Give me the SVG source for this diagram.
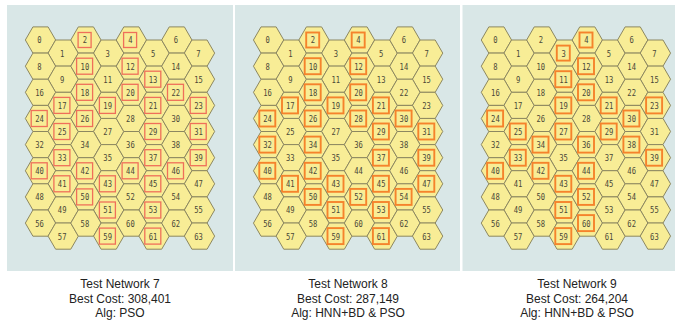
<svg xmlns="http://www.w3.org/2000/svg" xmlns:xlink="http://www.w3.org/1999/xlink" width="675" height="324" viewBox="0 0 675 324">
<style>
.bg{fill:#d9e7e7}
.t{font-family:"DejaVu Sans Mono",monospace;font-size:9.2px;fill:#4a4838;text-anchor:middle;transform:scaleX(0.78);stroke:none}
.k7{fill:none;stroke:#ef6f5a;stroke-width:1.3}
.k8{fill:none;stroke:#f5832c;stroke-width:1.9}
.cap{font-family:"Liberation Sans",Arial,sans-serif;font-size:12px;fill:#222;text-anchor:middle}
</style>
<defs>
<polygon id="h" points="-15.15,0 -7.58,-13.1 7.58,-13.1 15.15,0 7.58,13.1 -7.58,13.1" fill="#f8ed96" stroke="#8c8760" stroke-width="1"/>
<rect id="bs" x="-7.8" y="-7.5" width="13" height="15"/>
<rect id="bd" x="-9.3" y="-8" width="16" height="16"/>
</defs>
<rect class="bg" x="7" y="5" width="226" height="266"/>
<rect class="bg" x="235" y="5" width="225" height="266"/>
<rect class="bg" x="462.5" y="5" width="212.5" height="266"/>

<g id="panel7" transform="translate(40.5 40)">
<g id="n7-0" transform="translate(0 0)"><use href="#h"/><text class="t" x="-1.3" y="3.4">0</text></g>
<g id="n7-1" transform="translate(22.7 13.1)"><use href="#h"/><text class="t" x="-1.3" y="3.4">1</text></g>
<g id="n7-2" transform="translate(45.4 0)"><use href="#h"/><use href="#bs" class="k7"/><text class="t" x="-1.3" y="3.4">2</text></g>
<g id="n7-3" transform="translate(68.2 13.1)"><use href="#h"/><text class="t" x="-1.3" y="3.4">3</text></g>
<g id="n7-4" transform="translate(90.9 0)"><use href="#h"/><use href="#bs" class="k7"/><text class="t" x="-1.3" y="3.4">4</text></g>
<g id="n7-5" transform="translate(113.6 13.1)"><use href="#h"/><text class="t" x="-1.3" y="3.4">5</text></g>
<g id="n7-6" transform="translate(136.3 0)"><use href="#h"/><text class="t" x="-1.3" y="3.4">6</text></g>
<g id="n7-7" transform="translate(159 13.1)"><use href="#h"/><text class="t" x="-1.3" y="3.4">7</text></g>
<g id="n7-8" transform="translate(0 26.2)"><use href="#h"/><text class="t" x="-1.3" y="3.4">8</text></g>
<g id="n7-9" transform="translate(22.7 39.2)"><use href="#h"/><text class="t" x="-1.3" y="3.4">9</text></g>
<g id="n7-10" transform="translate(45.4 26.2)"><use href="#h"/><use href="#bd" class="k7"/><text class="t" x="-1.3" y="3.4">10</text></g>
<g id="n7-11" transform="translate(68.2 39.2)"><use href="#h"/><text class="t" x="-1.3" y="3.4">11</text></g>
<g id="n7-12" transform="translate(90.9 26.2)"><use href="#h"/><use href="#bd" class="k7"/><text class="t" x="-1.3" y="3.4">12</text></g>
<g id="n7-13" transform="translate(113.6 39.2)"><use href="#h"/><use href="#bd" class="k7"/><text class="t" x="-1.3" y="3.4">13</text></g>
<g id="n7-14" transform="translate(136.3 26.2)"><use href="#h"/><text class="t" x="-1.3" y="3.4">14</text></g>
<g id="n7-15" transform="translate(159 39.2)"><use href="#h"/><text class="t" x="-1.3" y="3.4">15</text></g>
<g id="n7-16" transform="translate(0 52.3)"><use href="#h"/><text class="t" x="-1.3" y="3.4">16</text></g>
<g id="n7-17" transform="translate(22.7 65.4)"><use href="#h"/><use href="#bd" class="k7"/><text class="t" x="-1.3" y="3.4">17</text></g>
<g id="n7-18" transform="translate(45.4 52.3)"><use href="#h"/><use href="#bd" class="k7"/><text class="t" x="-1.3" y="3.4">18</text></g>
<g id="n7-19" transform="translate(68.2 65.4)"><use href="#h"/><use href="#bd" class="k7"/><text class="t" x="-1.3" y="3.4">19</text></g>
<g id="n7-20" transform="translate(90.9 52.3)"><use href="#h"/><use href="#bd" class="k7"/><text class="t" x="-1.3" y="3.4">20</text></g>
<g id="n7-21" transform="translate(113.6 65.4)"><use href="#h"/><use href="#bd" class="k7"/><text class="t" x="-1.3" y="3.4">21</text></g>
<g id="n7-22" transform="translate(136.3 52.3)"><use href="#h"/><use href="#bd" class="k7"/><text class="t" x="-1.3" y="3.4">22</text></g>
<g id="n7-23" transform="translate(159 65.4)"><use href="#h"/><use href="#bd" class="k7"/><text class="t" x="-1.3" y="3.4">23</text></g>
<g id="n7-24" transform="translate(0 78.5)"><use href="#h"/><use href="#bd" class="k7"/><text class="t" x="-1.3" y="3.4">24</text></g>
<g id="n7-25" transform="translate(22.7 91.5)"><use href="#h"/><use href="#bd" class="k7"/><text class="t" x="-1.3" y="3.4">25</text></g>
<g id="n7-26" transform="translate(45.4 78.5)"><use href="#h"/><use href="#bd" class="k7"/><text class="t" x="-1.3" y="3.4">26</text></g>
<g id="n7-27" transform="translate(68.2 91.5)"><use href="#h"/><text class="t" x="-1.3" y="3.4">27</text></g>
<g id="n7-28" transform="translate(90.9 78.5)"><use href="#h"/><text class="t" x="-1.3" y="3.4">28</text></g>
<g id="n7-29" transform="translate(113.6 91.5)"><use href="#h"/><use href="#bd" class="k7"/><text class="t" x="-1.3" y="3.4">29</text></g>
<g id="n7-30" transform="translate(136.3 78.5)"><use href="#h"/><text class="t" x="-1.3" y="3.4">30</text></g>
<g id="n7-31" transform="translate(159 91.5)"><use href="#h"/><use href="#bd" class="k7"/><text class="t" x="-1.3" y="3.4">31</text></g>
<g id="n7-32" transform="translate(0 104.6)"><use href="#h"/><text class="t" x="-1.3" y="3.4">32</text></g>
<g id="n7-33" transform="translate(22.7 117.7)"><use href="#h"/><use href="#bd" class="k7"/><text class="t" x="-1.3" y="3.4">33</text></g>
<g id="n7-34" transform="translate(45.4 104.6)"><use href="#h"/><text class="t" x="-1.3" y="3.4">34</text></g>
<g id="n7-35" transform="translate(68.2 117.7)"><use href="#h"/><text class="t" x="-1.3" y="3.4">35</text></g>
<g id="n7-36" transform="translate(90.9 104.6)"><use href="#h"/><text class="t" x="-1.3" y="3.4">36</text></g>
<g id="n7-37" transform="translate(113.6 117.7)"><use href="#h"/><use href="#bd" class="k7"/><text class="t" x="-1.3" y="3.4">37</text></g>
<g id="n7-38" transform="translate(136.3 104.6)"><use href="#h"/><text class="t" x="-1.3" y="3.4">38</text></g>
<g id="n7-39" transform="translate(159 117.7)"><use href="#h"/><use href="#bd" class="k7"/><text class="t" x="-1.3" y="3.4">39</text></g>
<g id="n7-40" transform="translate(0 130.8)"><use href="#h"/><use href="#bd" class="k7"/><text class="t" x="-1.3" y="3.4">40</text></g>
<g id="n7-41" transform="translate(22.7 143.8)"><use href="#h"/><use href="#bd" class="k7"/><text class="t" x="-1.3" y="3.4">41</text></g>
<g id="n7-42" transform="translate(45.4 130.8)"><use href="#h"/><use href="#bd" class="k7"/><text class="t" x="-1.3" y="3.4">42</text></g>
<g id="n7-43" transform="translate(68.2 143.8)"><use href="#h"/><use href="#bd" class="k7"/><text class="t" x="-1.3" y="3.4">43</text></g>
<g id="n7-44" transform="translate(90.9 130.8)"><use href="#h"/><use href="#bd" class="k7"/><text class="t" x="-1.3" y="3.4">44</text></g>
<g id="n7-45" transform="translate(113.6 143.8)"><use href="#h"/><use href="#bd" class="k7"/><text class="t" x="-1.3" y="3.4">45</text></g>
<g id="n7-46" transform="translate(136.3 130.8)"><use href="#h"/><use href="#bd" class="k7"/><text class="t" x="-1.3" y="3.4">46</text></g>
<g id="n7-47" transform="translate(159 143.8)"><use href="#h"/><text class="t" x="-1.3" y="3.4">47</text></g>
<g id="n7-48" transform="translate(0 156.9)"><use href="#h"/><text class="t" x="-1.3" y="3.4">48</text></g>
<g id="n7-49" transform="translate(22.7 170)"><use href="#h"/><text class="t" x="-1.3" y="3.4">49</text></g>
<g id="n7-50" transform="translate(45.4 156.9)"><use href="#h"/><use href="#bd" class="k7"/><text class="t" x="-1.3" y="3.4">50</text></g>
<g id="n7-51" transform="translate(68.2 170)"><use href="#h"/><use href="#bd" class="k7"/><text class="t" x="-1.3" y="3.4">51</text></g>
<g id="n7-52" transform="translate(90.9 156.9)"><use href="#h"/><text class="t" x="-1.3" y="3.4">52</text></g>
<g id="n7-53" transform="translate(113.6 170)"><use href="#h"/><use href="#bd" class="k7"/><text class="t" x="-1.3" y="3.4">53</text></g>
<g id="n7-54" transform="translate(136.3 156.9)"><use href="#h"/><text class="t" x="-1.3" y="3.4">54</text></g>
<g id="n7-55" transform="translate(159 170)"><use href="#h"/><text class="t" x="-1.3" y="3.4">55</text></g>
<g id="n7-56" transform="translate(0 183.1)"><use href="#h"/><text class="t" x="-1.3" y="3.4">56</text></g>
<g id="n7-57" transform="translate(22.7 196.1)"><use href="#h"/><text class="t" x="-1.3" y="3.4">57</text></g>
<g id="n7-58" transform="translate(45.4 183.1)"><use href="#h"/><text class="t" x="-1.3" y="3.4">58</text></g>
<g id="n7-59" transform="translate(68.2 196.1)"><use href="#h"/><use href="#bd" class="k7"/><text class="t" x="-1.3" y="3.4">59</text></g>
<g id="n7-60" transform="translate(90.9 183.1)"><use href="#h"/><text class="t" x="-1.3" y="3.4">60</text></g>
<g id="n7-61" transform="translate(113.6 196.1)"><use href="#h"/><use href="#bd" class="k7"/><text class="t" x="-1.3" y="3.4">61</text></g>
<g id="n7-62" transform="translate(136.3 183.1)"><use href="#h"/><text class="t" x="-1.3" y="3.4">62</text></g>
<g id="n7-63" transform="translate(159 196.1)"><use href="#h"/><text class="t" x="-1.3" y="3.4">63</text></g>
</g>

<g id="panel8" transform="translate(268.6 40)">
<g id="n8-0" transform="translate(0 0)"><use href="#h"/><text class="t" x="-1.3" y="3.4">0</text></g>
<g id="n8-1" transform="translate(22.7 13.1)"><use href="#h"/><text class="t" x="-1.3" y="3.4">1</text></g>
<g id="n8-2" transform="translate(45.4 0)"><use href="#h"/><use href="#bs" class="k8"/><text class="t" x="-1.3" y="3.4">2</text></g>
<g id="n8-3" transform="translate(68.2 13.1)"><use href="#h"/><text class="t" x="-1.3" y="3.4">3</text></g>
<g id="n8-4" transform="translate(90.9 0)"><use href="#h"/><use href="#bs" class="k8"/><text class="t" x="-1.3" y="3.4">4</text></g>
<g id="n8-5" transform="translate(113.6 13.1)"><use href="#h"/><text class="t" x="-1.3" y="3.4">5</text></g>
<g id="n8-6" transform="translate(136.3 0)"><use href="#h"/><text class="t" x="-1.3" y="3.4">6</text></g>
<g id="n8-7" transform="translate(159 13.1)"><use href="#h"/><text class="t" x="-1.3" y="3.4">7</text></g>
<g id="n8-8" transform="translate(0 26.2)"><use href="#h"/><text class="t" x="-1.3" y="3.4">8</text></g>
<g id="n8-9" transform="translate(22.7 39.2)"><use href="#h"/><text class="t" x="-1.3" y="3.4">9</text></g>
<g id="n8-10" transform="translate(45.4 26.2)"><use href="#h"/><use href="#bd" class="k8"/><text class="t" x="-1.3" y="3.4">10</text></g>
<g id="n8-11" transform="translate(68.2 39.2)"><use href="#h"/><text class="t" x="-1.3" y="3.4">11</text></g>
<g id="n8-12" transform="translate(90.9 26.2)"><use href="#h"/><use href="#bd" class="k8"/><text class="t" x="-1.3" y="3.4">12</text></g>
<g id="n8-13" transform="translate(113.6 39.2)"><use href="#h"/><text class="t" x="-1.3" y="3.4">13</text></g>
<g id="n8-14" transform="translate(136.3 26.2)"><use href="#h"/><text class="t" x="-1.3" y="3.4">14</text></g>
<g id="n8-15" transform="translate(159 39.2)"><use href="#h"/><text class="t" x="-1.3" y="3.4">15</text></g>
<g id="n8-16" transform="translate(0 52.3)"><use href="#h"/><text class="t" x="-1.3" y="3.4">16</text></g>
<g id="n8-17" transform="translate(22.7 65.4)"><use href="#h"/><use href="#bd" class="k8"/><text class="t" x="-1.3" y="3.4">17</text></g>
<g id="n8-18" transform="translate(45.4 52.3)"><use href="#h"/><use href="#bd" class="k8"/><text class="t" x="-1.3" y="3.4">18</text></g>
<g id="n8-19" transform="translate(68.2 65.4)"><use href="#h"/><use href="#bd" class="k8"/><text class="t" x="-1.3" y="3.4">19</text></g>
<g id="n8-20" transform="translate(90.9 52.3)"><use href="#h"/><use href="#bd" class="k8"/><text class="t" x="-1.3" y="3.4">20</text></g>
<g id="n8-21" transform="translate(113.6 65.4)"><use href="#h"/><use href="#bd" class="k8"/><text class="t" x="-1.3" y="3.4">21</text></g>
<g id="n8-22" transform="translate(136.3 52.3)"><use href="#h"/><text class="t" x="-1.3" y="3.4">22</text></g>
<g id="n8-23" transform="translate(159 65.4)"><use href="#h"/><text class="t" x="-1.3" y="3.4">23</text></g>
<g id="n8-24" transform="translate(0 78.5)"><use href="#h"/><use href="#bd" class="k8"/><text class="t" x="-1.3" y="3.4">24</text></g>
<g id="n8-25" transform="translate(22.7 91.5)"><use href="#h"/><text class="t" x="-1.3" y="3.4">25</text></g>
<g id="n8-26" transform="translate(45.4 78.5)"><use href="#h"/><use href="#bd" class="k8"/><text class="t" x="-1.3" y="3.4">26</text></g>
<g id="n8-27" transform="translate(68.2 91.5)"><use href="#h"/><text class="t" x="-1.3" y="3.4">27</text></g>
<g id="n8-28" transform="translate(90.9 78.5)"><use href="#h"/><use href="#bd" class="k8"/><text class="t" x="-1.3" y="3.4">28</text></g>
<g id="n8-29" transform="translate(113.6 91.5)"><use href="#h"/><use href="#bd" class="k8"/><text class="t" x="-1.3" y="3.4">29</text></g>
<g id="n8-30" transform="translate(136.3 78.5)"><use href="#h"/><use href="#bd" class="k8"/><text class="t" x="-1.3" y="3.4">30</text></g>
<g id="n8-31" transform="translate(159 91.5)"><use href="#h"/><use href="#bd" class="k8"/><text class="t" x="-1.3" y="3.4">31</text></g>
<g id="n8-32" transform="translate(0 104.6)"><use href="#h"/><use href="#bd" class="k8"/><text class="t" x="-1.3" y="3.4">32</text></g>
<g id="n8-33" transform="translate(22.7 117.7)"><use href="#h"/><text class="t" x="-1.3" y="3.4">33</text></g>
<g id="n8-34" transform="translate(45.4 104.6)"><use href="#h"/><use href="#bd" class="k8"/><text class="t" x="-1.3" y="3.4">34</text></g>
<g id="n8-35" transform="translate(68.2 117.7)"><use href="#h"/><text class="t" x="-1.3" y="3.4">35</text></g>
<g id="n8-36" transform="translate(90.9 104.6)"><use href="#h"/><text class="t" x="-1.3" y="3.4">36</text></g>
<g id="n8-37" transform="translate(113.6 117.7)"><use href="#h"/><use href="#bd" class="k8"/><text class="t" x="-1.3" y="3.4">37</text></g>
<g id="n8-38" transform="translate(136.3 104.6)"><use href="#h"/><text class="t" x="-1.3" y="3.4">38</text></g>
<g id="n8-39" transform="translate(159 117.7)"><use href="#h"/><use href="#bd" class="k8"/><text class="t" x="-1.3" y="3.4">39</text></g>
<g id="n8-40" transform="translate(0 130.8)"><use href="#h"/><use href="#bd" class="k8"/><text class="t" x="-1.3" y="3.4">40</text></g>
<g id="n8-41" transform="translate(22.7 143.8)"><use href="#h"/><use href="#bd" class="k8"/><text class="t" x="-1.3" y="3.4">41</text></g>
<g id="n8-42" transform="translate(45.4 130.8)"><use href="#h"/><use href="#bd" class="k8"/><text class="t" x="-1.3" y="3.4">42</text></g>
<g id="n8-43" transform="translate(68.2 143.8)"><use href="#h"/><use href="#bd" class="k8"/><text class="t" x="-1.3" y="3.4">43</text></g>
<g id="n8-44" transform="translate(90.9 130.8)"><use href="#h"/><text class="t" x="-1.3" y="3.4">44</text></g>
<g id="n8-45" transform="translate(113.6 143.8)"><use href="#h"/><use href="#bd" class="k8"/><text class="t" x="-1.3" y="3.4">45</text></g>
<g id="n8-46" transform="translate(136.3 130.8)"><use href="#h"/><text class="t" x="-1.3" y="3.4">46</text></g>
<g id="n8-47" transform="translate(159 143.8)"><use href="#h"/><use href="#bd" class="k8"/><text class="t" x="-1.3" y="3.4">47</text></g>
<g id="n8-48" transform="translate(0 156.9)"><use href="#h"/><text class="t" x="-1.3" y="3.4">48</text></g>
<g id="n8-49" transform="translate(22.7 170)"><use href="#h"/><text class="t" x="-1.3" y="3.4">49</text></g>
<g id="n8-50" transform="translate(45.4 156.9)"><use href="#h"/><use href="#bd" class="k8"/><text class="t" x="-1.3" y="3.4">50</text></g>
<g id="n8-51" transform="translate(68.2 170)"><use href="#h"/><use href="#bd" class="k8"/><text class="t" x="-1.3" y="3.4">51</text></g>
<g id="n8-52" transform="translate(90.9 156.9)"><use href="#h"/><use href="#bd" class="k8"/><text class="t" x="-1.3" y="3.4">52</text></g>
<g id="n8-53" transform="translate(113.6 170)"><use href="#h"/><use href="#bd" class="k8"/><text class="t" x="-1.3" y="3.4">53</text></g>
<g id="n8-54" transform="translate(136.3 156.9)"><use href="#h"/><use href="#bd" class="k8"/><text class="t" x="-1.3" y="3.4">54</text></g>
<g id="n8-55" transform="translate(159 170)"><use href="#h"/><text class="t" x="-1.3" y="3.4">55</text></g>
<g id="n8-56" transform="translate(0 183.1)"><use href="#h"/><text class="t" x="-1.3" y="3.4">56</text></g>
<g id="n8-57" transform="translate(22.7 196.1)"><use href="#h"/><text class="t" x="-1.3" y="3.4">57</text></g>
<g id="n8-58" transform="translate(45.4 183.1)"><use href="#h"/><text class="t" x="-1.3" y="3.4">58</text></g>
<g id="n8-59" transform="translate(68.2 196.1)"><use href="#h"/><use href="#bd" class="k8"/><text class="t" x="-1.3" y="3.4">59</text></g>
<g id="n8-60" transform="translate(90.9 183.1)"><use href="#h"/><text class="t" x="-1.3" y="3.4">60</text></g>
<g id="n8-61" transform="translate(113.6 196.1)"><use href="#h"/><use href="#bd" class="k8"/><text class="t" x="-1.3" y="3.4">61</text></g>
<g id="n8-62" transform="translate(136.3 183.1)"><use href="#h"/><text class="t" x="-1.3" y="3.4">62</text></g>
<g id="n8-63" transform="translate(159 196.1)"><use href="#h"/><text class="t" x="-1.3" y="3.4">63</text></g>
</g>

<g id="panel9" transform="translate(496.4 40)">
<g id="n9-0" transform="translate(0 0)"><use href="#h"/><text class="t" x="-1.3" y="3.4">0</text></g>
<g id="n9-1" transform="translate(22.7 13.1)"><use href="#h"/><text class="t" x="-1.3" y="3.4">1</text></g>
<g id="n9-2" transform="translate(45.4 0)"><use href="#h"/><text class="t" x="-1.3" y="3.4">2</text></g>
<g id="n9-3" transform="translate(68.2 13.1)"><use href="#h"/><use href="#bs" class="k8"/><text class="t" x="-1.3" y="3.4">3</text></g>
<g id="n9-4" transform="translate(90.9 0)"><use href="#h"/><use href="#bs" class="k8"/><text class="t" x="-1.3" y="3.4">4</text></g>
<g id="n9-5" transform="translate(113.6 13.1)"><use href="#h"/><text class="t" x="-1.3" y="3.4">5</text></g>
<g id="n9-6" transform="translate(136.3 0)"><use href="#h"/><text class="t" x="-1.3" y="3.4">6</text></g>
<g id="n9-7" transform="translate(159 13.1)"><use href="#h"/><text class="t" x="-1.3" y="3.4">7</text></g>
<g id="n9-8" transform="translate(0 26.2)"><use href="#h"/><text class="t" x="-1.3" y="3.4">8</text></g>
<g id="n9-9" transform="translate(22.7 39.2)"><use href="#h"/><text class="t" x="-1.3" y="3.4">9</text></g>
<g id="n9-10" transform="translate(45.4 26.2)"><use href="#h"/><text class="t" x="-1.3" y="3.4">10</text></g>
<g id="n9-11" transform="translate(68.2 39.2)"><use href="#h"/><use href="#bd" class="k8"/><text class="t" x="-1.3" y="3.4">11</text></g>
<g id="n9-12" transform="translate(90.9 26.2)"><use href="#h"/><use href="#bd" class="k8"/><text class="t" x="-1.3" y="3.4">12</text></g>
<g id="n9-13" transform="translate(113.6 39.2)"><use href="#h"/><text class="t" x="-1.3" y="3.4">13</text></g>
<g id="n9-14" transform="translate(136.3 26.2)"><use href="#h"/><text class="t" x="-1.3" y="3.4">14</text></g>
<g id="n9-15" transform="translate(159 39.2)"><use href="#h"/><text class="t" x="-1.3" y="3.4">15</text></g>
<g id="n9-16" transform="translate(0 52.3)"><use href="#h"/><text class="t" x="-1.3" y="3.4">16</text></g>
<g id="n9-17" transform="translate(22.7 65.4)"><use href="#h"/><text class="t" x="-1.3" y="3.4">17</text></g>
<g id="n9-18" transform="translate(45.4 52.3)"><use href="#h"/><text class="t" x="-1.3" y="3.4">18</text></g>
<g id="n9-19" transform="translate(68.2 65.4)"><use href="#h"/><use href="#bd" class="k8"/><text class="t" x="-1.3" y="3.4">19</text></g>
<g id="n9-20" transform="translate(90.9 52.3)"><use href="#h"/><use href="#bd" class="k8"/><text class="t" x="-1.3" y="3.4">20</text></g>
<g id="n9-21" transform="translate(113.6 65.4)"><use href="#h"/><use href="#bd" class="k8"/><text class="t" x="-1.3" y="3.4">21</text></g>
<g id="n9-22" transform="translate(136.3 52.3)"><use href="#h"/><text class="t" x="-1.3" y="3.4">22</text></g>
<g id="n9-23" transform="translate(159 65.4)"><use href="#h"/><use href="#bd" class="k8"/><text class="t" x="-1.3" y="3.4">23</text></g>
<g id="n9-24" transform="translate(0 78.5)"><use href="#h"/><use href="#bd" class="k8"/><text class="t" x="-1.3" y="3.4">24</text></g>
<g id="n9-25" transform="translate(22.7 91.5)"><use href="#h"/><use href="#bd" class="k8"/><text class="t" x="-1.3" y="3.4">25</text></g>
<g id="n9-26" transform="translate(45.4 78.5)"><use href="#h"/><text class="t" x="-1.3" y="3.4">26</text></g>
<g id="n9-27" transform="translate(68.2 91.5)"><use href="#h"/><use href="#bd" class="k8"/><text class="t" x="-1.3" y="3.4">27</text></g>
<g id="n9-28" transform="translate(90.9 78.5)"><use href="#h"/><text class="t" x="-1.3" y="3.4">28</text></g>
<g id="n9-29" transform="translate(113.6 91.5)"><use href="#h"/><use href="#bd" class="k8"/><text class="t" x="-1.3" y="3.4">29</text></g>
<g id="n9-30" transform="translate(136.3 78.5)"><use href="#h"/><use href="#bd" class="k8"/><text class="t" x="-1.3" y="3.4">30</text></g>
<g id="n9-31" transform="translate(159 91.5)"><use href="#h"/><text class="t" x="-1.3" y="3.4">31</text></g>
<g id="n9-32" transform="translate(0 104.6)"><use href="#h"/><text class="t" x="-1.3" y="3.4">32</text></g>
<g id="n9-33" transform="translate(22.7 117.7)"><use href="#h"/><use href="#bd" class="k8"/><text class="t" x="-1.3" y="3.4">33</text></g>
<g id="n9-34" transform="translate(45.4 104.6)"><use href="#h"/><use href="#bd" class="k8"/><text class="t" x="-1.3" y="3.4">34</text></g>
<g id="n9-35" transform="translate(68.2 117.7)"><use href="#h"/><text class="t" x="-1.3" y="3.4">35</text></g>
<g id="n9-36" transform="translate(90.9 104.6)"><use href="#h"/><use href="#bd" class="k8"/><text class="t" x="-1.3" y="3.4">36</text></g>
<g id="n9-37" transform="translate(113.6 117.7)"><use href="#h"/><text class="t" x="-1.3" y="3.4">37</text></g>
<g id="n9-38" transform="translate(136.3 104.6)"><use href="#h"/><use href="#bd" class="k8"/><text class="t" x="-1.3" y="3.4">38</text></g>
<g id="n9-39" transform="translate(159 117.7)"><use href="#h"/><use href="#bd" class="k8"/><text class="t" x="-1.3" y="3.4">39</text></g>
<g id="n9-40" transform="translate(0 130.8)"><use href="#h"/><use href="#bd" class="k8"/><text class="t" x="-1.3" y="3.4">40</text></g>
<g id="n9-41" transform="translate(22.7 143.8)"><use href="#h"/><text class="t" x="-1.3" y="3.4">41</text></g>
<g id="n9-42" transform="translate(45.4 130.8)"><use href="#h"/><use href="#bd" class="k8"/><text class="t" x="-1.3" y="3.4">42</text></g>
<g id="n9-43" transform="translate(68.2 143.8)"><use href="#h"/><use href="#bd" class="k8"/><text class="t" x="-1.3" y="3.4">43</text></g>
<g id="n9-44" transform="translate(90.9 130.8)"><use href="#h"/><use href="#bd" class="k8"/><text class="t" x="-1.3" y="3.4">44</text></g>
<g id="n9-45" transform="translate(113.6 143.8)"><use href="#h"/><text class="t" x="-1.3" y="3.4">45</text></g>
<g id="n9-46" transform="translate(136.3 130.8)"><use href="#h"/><text class="t" x="-1.3" y="3.4">46</text></g>
<g id="n9-47" transform="translate(159 143.8)"><use href="#h"/><text class="t" x="-1.3" y="3.4">47</text></g>
<g id="n9-48" transform="translate(0 156.9)"><use href="#h"/><text class="t" x="-1.3" y="3.4">48</text></g>
<g id="n9-49" transform="translate(22.7 170)"><use href="#h"/><text class="t" x="-1.3" y="3.4">49</text></g>
<g id="n9-50" transform="translate(45.4 156.9)"><use href="#h"/><text class="t" x="-1.3" y="3.4">50</text></g>
<g id="n9-51" transform="translate(68.2 170)"><use href="#h"/><use href="#bd" class="k8"/><text class="t" x="-1.3" y="3.4">51</text></g>
<g id="n9-52" transform="translate(90.9 156.9)"><use href="#h"/><use href="#bd" class="k8"/><text class="t" x="-1.3" y="3.4">52</text></g>
<g id="n9-53" transform="translate(113.6 170)"><use href="#h"/><text class="t" x="-1.3" y="3.4">53</text></g>
<g id="n9-54" transform="translate(136.3 156.9)"><use href="#h"/><text class="t" x="-1.3" y="3.4">54</text></g>
<g id="n9-55" transform="translate(159 170)"><use href="#h"/><text class="t" x="-1.3" y="3.4">55</text></g>
<g id="n9-56" transform="translate(0 183.1)"><use href="#h"/><text class="t" x="-1.3" y="3.4">56</text></g>
<g id="n9-57" transform="translate(22.7 196.1)"><use href="#h"/><text class="t" x="-1.3" y="3.4">57</text></g>
<g id="n9-58" transform="translate(45.4 183.1)"><use href="#h"/><text class="t" x="-1.3" y="3.4">58</text></g>
<g id="n9-59" transform="translate(68.2 196.1)"><use href="#h"/><use href="#bd" class="k8"/><text class="t" x="-1.3" y="3.4">59</text></g>
<g id="n9-60" transform="translate(90.9 183.1)"><use href="#h"/><use href="#bd" class="k8"/><text class="t" x="-1.3" y="3.4">60</text></g>
<g id="n9-61" transform="translate(113.6 196.1)"><use href="#h"/><text class="t" x="-1.3" y="3.4">61</text></g>
<g id="n9-62" transform="translate(136.3 183.1)"><use href="#h"/><text class="t" x="-1.3" y="3.4">62</text></g>
<g id="n9-63" transform="translate(159 196.1)"><use href="#h"/><text class="t" x="-1.3" y="3.4">63</text></g>
</g>

<g id="connectors"></g>

<g id="captions">
<text class="cap" x="120" y="288">Test Network 7</text>
<text class="cap" x="120" y="302.5">Best Cost: 308,401</text>
<text class="cap" x="120" y="317">Alg: PSO</text>
<text class="cap" x="348" y="288">Test Network 8</text>
<text class="cap" x="348" y="302.5">Best Cost: 287,149</text>
<text class="cap" x="348" y="317">Alg: HNN+BD &amp; PSO</text>
<text class="cap" x="577" y="288">Test Network 9</text>
<text class="cap" x="577" y="302.5">Best Cost: 264,204</text>
<text class="cap" x="577" y="317">Alg: HNN+BD &amp; PSO</text>
</g>
</svg>
